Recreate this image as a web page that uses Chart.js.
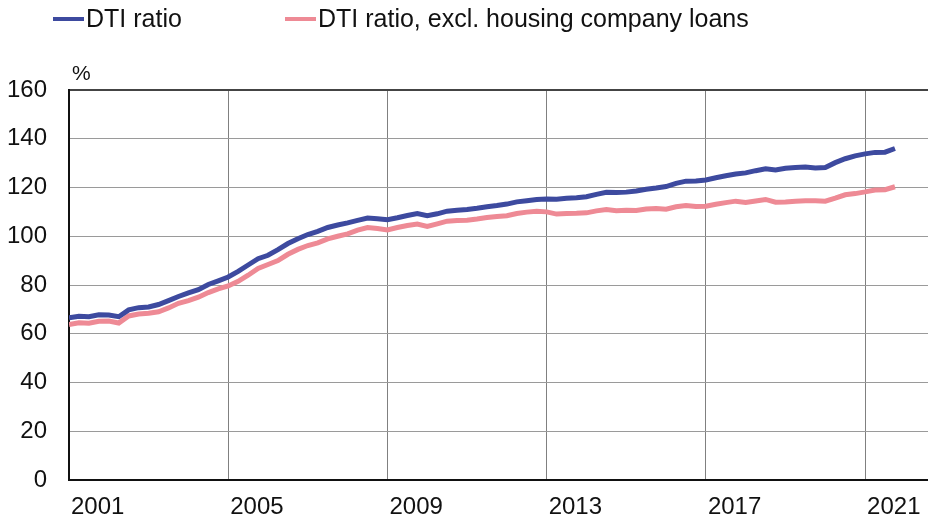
<!DOCTYPE html>
<html>
<head>
<meta charset="utf-8">
<script src="https://cdn.jsdelivr.net/npm/chart.js@4/dist/chart.umd.min.js"></script>
<style>
  html, body { margin: 0; padding: 0; background: #fff; }
  #wrap { width: 928px; height: 524px; position: relative; }
</style>
</head>
<body>
<div id="wrap"><canvas id="c"></canvas></div>
<script>
// ---- data ----
const startYear = 2001;          // first quarter 2001Q1
const quarterStep = 0.25;
const seriesLabels = ['DTI ratio', 'DTI ratio, excl. housing company loans'];
const dtiRatio = [
  66.5, 67.2, 67.0, 67.8, 67.7, 67.0, 69.8, 70.7, 71.0, 72.0,
  73.6, 75.3, 76.8, 78.1, 80.2, 81.7, 83.3, 85.6, 88.2, 90.8,
  92.2, 94.5, 97.0, 99.0, 100.7, 102.0, 103.6, 104.6, 105.5, 106.5,
  107.5, 107.2, 106.8, 107.6, 108.5, 109.3, 108.4, 109.2, 110.3, 110.7,
  111.0, 111.5, 112.1, 112.6, 113.2, 114.1, 114.6, 115.1, 115.3, 115.2,
  115.6, 115.8, 116.2, 117.2, 118.0, 117.9, 118.1, 118.6, 119.3, 119.8,
  120.4, 121.7, 122.6, 122.7, 123.1, 124.0, 124.8, 125.5, 126.0, 126.9,
  127.7, 127.2, 127.9, 128.2, 128.4, 128.0, 128.2, 130.2, 131.8, 133.0,
  133.8, 134.4, 134.5, 136.0
];
const dtiExclHousingCo = [
  63.8, 64.5, 64.3, 65.1, 65.2, 64.4, 67.3, 68.1, 68.4, 69.0,
  70.6, 72.5, 73.6, 75.0, 76.9, 78.4, 79.6, 81.5, 84.0, 86.8,
  88.4, 90.0, 92.6, 94.6, 96.2, 97.3, 98.9, 100.0, 101.0, 102.5,
  103.6, 103.2, 102.6, 103.6, 104.4, 105.0, 104.0, 105.1, 106.2, 106.5,
  106.6, 107.1, 107.7, 108.1, 108.4, 109.3, 109.9, 110.3, 110.0, 109.1,
  109.3, 109.4, 109.6, 110.4, 111.0, 110.5, 110.7, 110.6, 111.2, 111.4,
  111.1, 112.1, 112.6, 112.2, 112.3, 113.1, 113.8, 114.4, 113.9, 114.5,
  115.1, 114.0, 114.1, 114.4, 114.6, 114.6, 114.4, 115.6, 117.0, 117.5,
  118.2, 119.0, 119.1, 120.3
];
const xTickYears = [2001, 2005, 2009, 2013, 2017, 2021];
const yTicks = [0, 20, 40, 60, 80, 100, 120, 140, 160];
const yUnit = '%';

// ---- build ----
const toPoints = arr => arr.map((v, i) => ({ x: startYear + i * quarterStep, y: v }));
const FONT = '"Liberation Sans", Arial, sans-serif';
const colors = ['#3d4a9f', '#ee8a95'];

const overlay = {
  id: 'overlay',
  afterDraw(chart) {
    const ctx = chart.ctx;
    const ca = chart.chartArea;
    ctx.save();
    ctx.font = '25px ' + FONT;
    ctx.fillStyle = '#111';
    ctx.textBaseline = 'middle';
    // legend
    const items = [{ x: 53 }, { x: 285 }];
    chart.data.datasets.forEach((ds, i) => {
      const lx = items[i].x;
      ctx.strokeStyle = ds.borderColor;
      ctx.lineWidth = 4;
      ctx.beginPath();
      ctx.moveTo(lx, 19);
      ctx.lineTo(lx + 31, 19);
      ctx.stroke();
      ctx.fillText(ds.label, lx + 33, 20);
    });
    // unit
    ctx.font = '21px ' + FONT;
    ctx.textBaseline = 'alphabetic';
    ctx.fillText(yUnit, ca.left + 3, ca.top - 10);
    ctx.restore();
  }
};

new Chart(document.getElementById('c'), {
  type: 'line',
  data: {
    datasets: [
      { label: seriesLabels[0], data: toPoints(dtiRatio), borderColor: colors[0], backgroundColor: colors[0],
        borderWidth: 5, pointRadius: 0, tension: 0, order: 1 },
      { label: seriesLabels[1], data: toPoints(dtiExclHousingCo), borderColor: colors[1], backgroundColor: colors[1],
        borderWidth: 5, pointRadius: 0, tension: 0, order: 2 }
    ]
  },
  options: {
    responsive: true,
    maintainAspectRatio: false,
    animation: false,
    layout: { padding: { top: 90, left: 7, right: 0, bottom: 0 } },
    plugins: { legend: { display: false }, tooltip: { enabled: false } },
    scales: {
      x: {
        type: 'linear',
        min: 2001,
        max: 2022.58,
        afterBuildTicks: s => { s.ticks = xTickYears.map(v => ({ value: v })); },
        afterFit: s => { s.height = 44; s.paddingLeft = 0; s.paddingRight = 0; },
        ticks: {
          font: { family: FONT, size: 24 },
          color: '#111',
          padding: 13,
          align: 'start',
          labelOffset: 2,
          maxRotation: 0,
          autoSkip: false,
          callback: v => String(v)
        },
        grid: { color: '#808080', lineWidth: 1, drawTicks: false },
        border: { color: '#111', width: 2 }
      },
      y: {
        min: 0,
        max: 160,
        afterBuildTicks: s => { s.ticks = yTicks.map(v => ({ value: v })); },
        afterFit: s => { s.width = 62; s.paddingTop = 0; s.paddingBottom = 0; },
        ticks: {
          font: { family: FONT, size: 24 },
          color: '#111',
          padding: 22
        },
        grid: {
          drawTicks: false,
          color: c => (c.tick && c.tick.value === 160 ? '#444' : '#9a9a9a'),
          lineWidth: c => (c.tick && c.tick.value === 160 ? 2 : 1)
        },
        border: { color: '#111', width: 2 }
      }
    }
  },
  plugins: [overlay]
});
</script>
</body>
</html>
